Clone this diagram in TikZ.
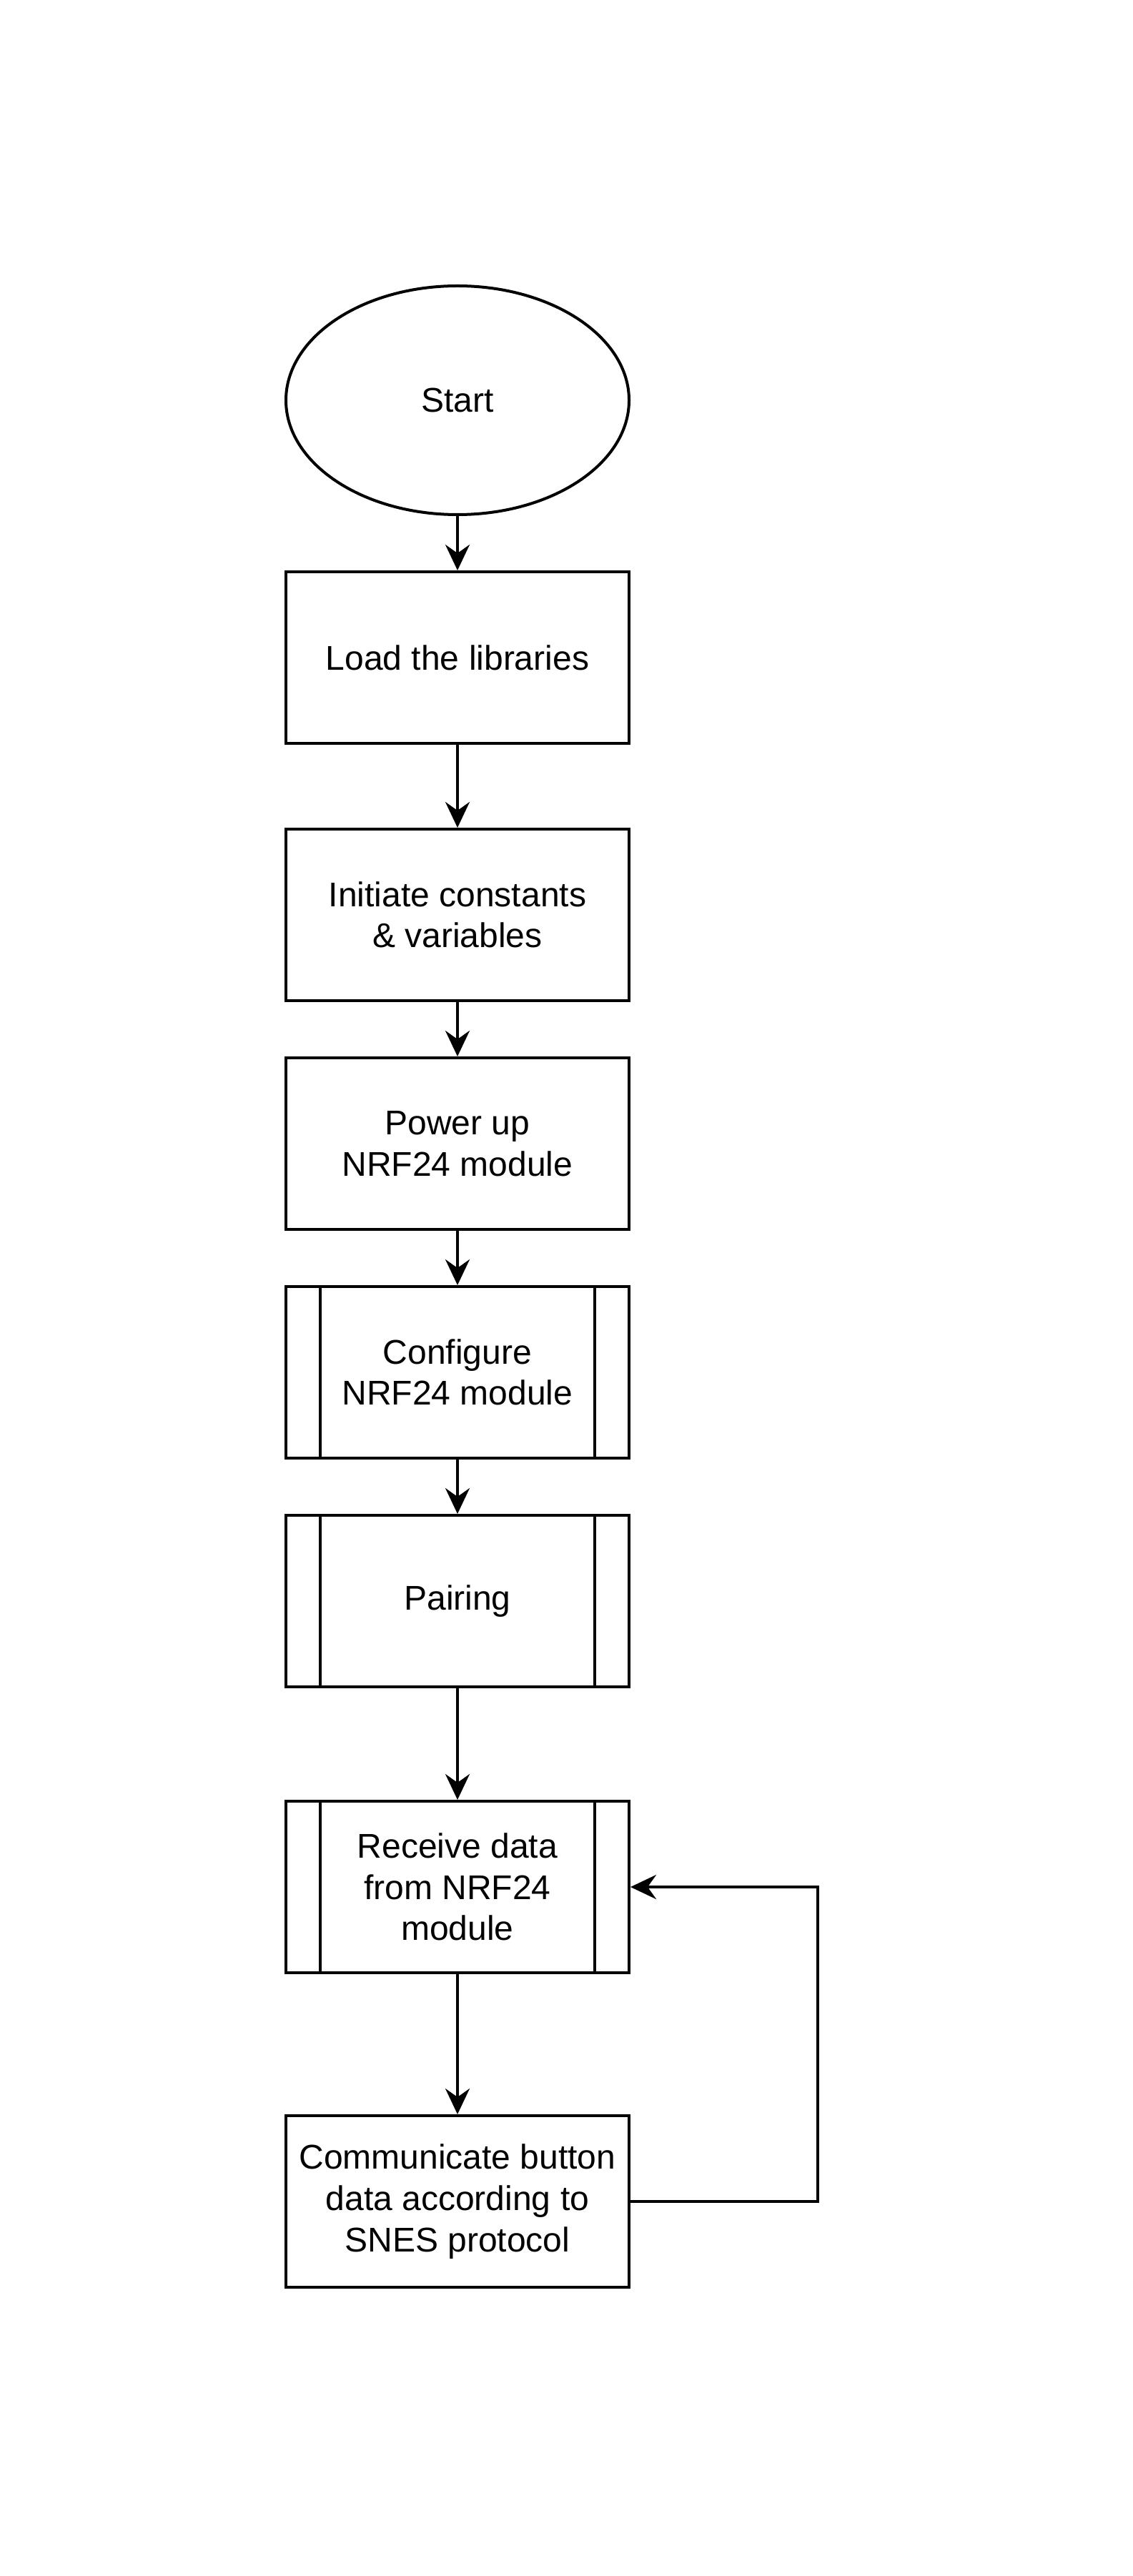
\documentclass[tikz,border=0pt]{standalone}
\usepackage{fontspec}
\setmainfont{Liberation Sans}
\usetikzlibrary{shapes.geometric,arrows.meta}

\begin{document}
\begin{tikzpicture}[
    x=1pt,y=-1pt,
    every node/.style={font=\fontsize{12}{14.4}\selectfont,align=center,inner sep=0pt},
    terminal/.style={draw,ellipse,line width=1pt,minimum width=120pt,minimum height=80pt},
    process/.style={draw,rectangle,line width=1pt,minimum width=120pt,minimum height=60pt},
    subproc/.style={process,path picture={
        \draw[line width=1pt] ([xshift=12pt]path picture bounding box.north west) -- ([xshift=12pt]path picture bounding box.south west);
        \draw[line width=1pt] ([xshift=-12pt]path picture bounding box.north east) -- ([xshift=-12pt]path picture bounding box.south east);}},
    arrow/.style={-{Stealth[length=9pt,width=8.5pt,inset=3pt]},line width=1pt}
]
    \useasboundingbox (0,0) rectangle (396,901);
    % Start and set-up
    \node[terminal] (start) at (160,140) {Start};
    \node[process] (libs) at (160,230) {Load the libraries};
    \node[process] (init) at (160,320) {Initiate constants\\\& variables};
    \node[process] (power) at (160,400) {Power up\\NRF24 module};
    % Sub-processes
    \node[subproc] (config) at (160,480) {Configure\\NRF24 module};
    \node[subproc] (pair) at (160,560) {Pairing};
    % Main loop
    \node[subproc] (receive) at (160,660) {Receive data\\from NRF24\\module};
    \node[process] (snes) at (160,770) {Communicate button\\data according to\\SNES protocol};
    \coordinate (back) at (286,770);
    % Arrows
    \draw[arrow] (start) -- (libs);
    \draw[arrow] (libs) -- (init);
    \draw[arrow] (init) -- (power);
    \draw[arrow] (power) -- (config);
    \draw[arrow] (config) -- (pair);
    \draw[arrow] (pair) -- (receive);
    \draw[arrow] (receive) -- (snes);
    \draw[arrow] (snes.east) -- (back) |- (receive.east);
\end{tikzpicture}
\end{document}
